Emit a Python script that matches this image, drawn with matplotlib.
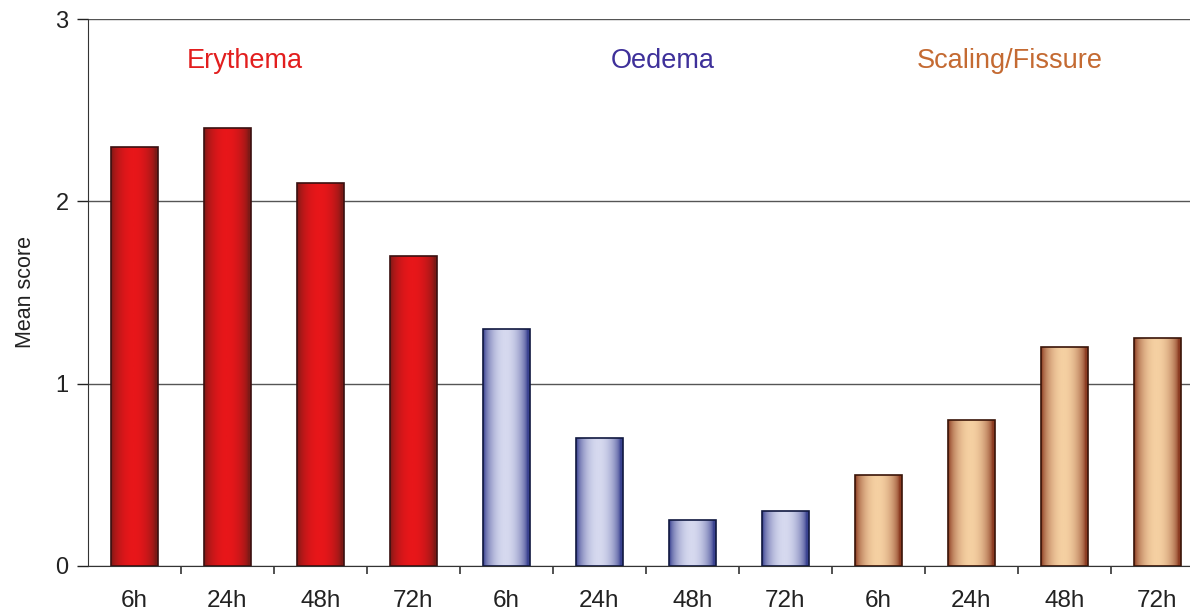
import numpy as np
import matplotlib.pyplot as plt
from matplotlib.colors import LinearSegmentedColormap

plt.rcParams['font.family'] = ['Liberation Sans', 'DejaVu Sans']

times = ['6h', '24h', '48h', '72h']
erythema = [2.3, 2.4, 2.1, 1.7]
oedema = [1.3, 0.7, 0.25, 0.3]
scaling = [0.5, 0.8, 1.2, 1.25]

groups = ['Erythema', 'Oedema', 'Scaling/Fissure']
title_colors = ['#e21e1e', '#3e309a', '#c46a32']
# edge / centre shades for the cylinder-like fill, plus outline colour
shades = [('#7e1a16', '#e8161a'), ('#3a4290', '#d6d9ef'), ('#8c3c22', '#f5d0a2')]
outlines = ['#3a1010', '#101840', '#3a1408']

values = erythema + oedema + scaling
labels = times * 3
x = np.arange(len(values))

fig = plt.figure(figsize=(11.9, 6.15), dpi=100)
ax = fig.add_axes([88 / 1190, 49 / 615, 1 - 88 / 1190, 547 / 615])

bars = ax.bar(x, values, width=0.5, color='none', linewidth=1.2, zorder=3)

# horizontal gradient inside each bar
t = np.linspace(0, 1, 200)
prof = np.clip(np.sin(np.pi * np.clip(t * 1.08 - 0.02, 0, 1)) ** 0.6, 0, 1)
for i, b in enumerate(bars):
    dark, light = shades[i // 4]
    b.set_edgecolor(outlines[i // 4])
    cmap = LinearSegmentedColormap.from_list('g', [dark, light])
    x0, y0 = b.get_x(), b.get_y()
    w, h = b.get_width(), b.get_height()
    im = ax.imshow(prof[np.newaxis, :], cmap=cmap, aspect='auto', vmin=0, vmax=1,
                   extent=(x0, x0 + w, y0, y0 + h), zorder=2, interpolation='bilinear')
    im.set_clip_path(b)

ax.set_xlim(-0.5, -0.5 + 1102 / 93)
ax.set_ylim(0, 3)
ax.set_yticks([0, 1, 2, 3])
ax.set_yticklabels(['0', '1', '2', '3'])
ax.yaxis.grid(True, color='#555555', linewidth=1.0, zorder=0)
ax.set_axisbelow(True)

ax.set_xticks(x)
ax.set_xticklabels(labels)
ax.set_xticks(np.arange(0.5, 11.5, 1), minor=True)
ax.tick_params(axis='x', which='major', length=0, pad=17, labelsize=17.5, colors='#222222')
ax.tick_params(axis='x', which='minor', length=6, width=1.2, color='#333333')
ax.tick_params(axis='y', length=8, width=1.0, labelsize=17, pad=6, colors='#222222')

for s in ['top', 'right']:
    ax.spines[s].set_visible(False)
ax.spines['left'].set_color('#333333')
ax.spines['bottom'].set_color('#333333')

ax.set_ylabel('Mean score', fontsize=15.5, color='#222222', labelpad=14)

for gx, name, c in zip([1.19, 5.68, 9.41], groups, title_colors):
    ax.text(gx, 2.77, name, color=c, fontsize=19.5, ha='center', va='center')

plt.savefig('out.png', dpi=100)
